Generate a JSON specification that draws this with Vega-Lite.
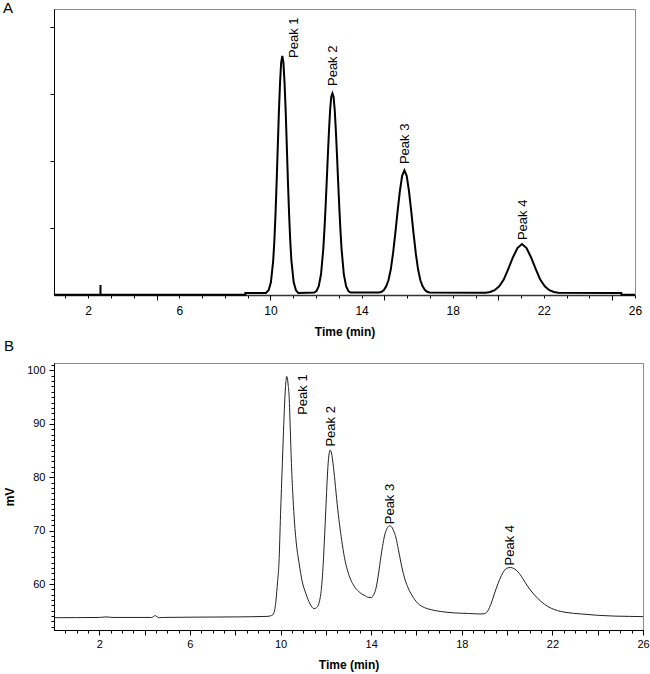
{
  "$schema": "https://vega.github.io/schema/vega-lite/v6.json",
  "padding": {"left": 2, "top": 0, "right": 2, "bottom": 2},
  "spacing": 68,
  "bounds": "flush",
  "config": {
    "font": "Liberation Sans",
    "view": {"stroke": "#8c8c8c", "strokeWidth": 1},
    "axis": {"domainColor": "#000", "tickColor": "#000", "labelColor": "#000", "titleColor": "#000", "grid": false, "labelFont": "Liberation Sans", "titleFont": "Liberation Sans", "titleFontWeight": "bold", "titleFontSize": 12, "labelFlush": false, "labelOverlap": false},
    "text": {"font": "Liberation Sans", "fontSize": 13, "color": "#000"},
    "title": {"font": "Liberation Sans", "fontSize": 15, "fontWeight": "normal", "color": "#000"}
  },
  "datasets": {
    "a": [
      {"t": 0.5, "v": 0.005}, {"t": 2.54, "v": 0.005}, {"t": 2.54, "v": 0.15}, {"t": 2.54, "v": 0.005},
      {"t": 8.9, "v": 0.005}, {"t": 8.9, "v": 0.03}, {"t": 9.8, "v": 0.03},
      {"t": 9.92, "v": 0.07}, {"t": 10.02, "v": 0.19}, {"t": 10.12, "v": 0.51}, {"t": 10.17, "v": 0.8}, {"t": 10.22, "v": 1.19}, {"t": 10.27, "v": 1.67}, {"t": 10.32, "v": 2.2}, {"t": 10.37, "v": 2.73}, {"t": 10.42, "v": 3.16}, {"t": 10.47, "v": 3.47}, {"t": 10.52, "v": 3.57}, {"t": 10.57, "v": 3.47}, {"t": 10.62, "v": 3.16}, {"t": 10.67, "v": 2.73}, {"t": 10.72, "v": 2.2}, {"t": 10.77, "v": 1.67}, {"t": 10.82, "v": 1.19}, {"t": 10.87, "v": 0.8}, {"t": 10.92, "v": 0.51}, {"t": 11.02, "v": 0.19}, {"t": 11.12, "v": 0.07}, {"t": 11.22, "v": 0.03},
      {"t": 11.92, "v": 0.037}, {"t": 12.02, "v": 0.06}, {"t": 12.12, "v": 0.13}, {"t": 12.22, "v": 0.31}, {"t": 12.32, "v": 0.69}, {"t": 12.37, "v": 0.98}, {"t": 12.42, "v": 1.32}, {"t": 12.47, "v": 1.7}, {"t": 12.52, "v": 2.09}, {"t": 12.57, "v": 2.46}, {"t": 12.62, "v": 2.77}, {"t": 12.67, "v": 2.96}, {"t": 12.72, "v": 3.01}, {"t": 12.77, "v": 2.96}, {"t": 12.82, "v": 2.77}, {"t": 12.87, "v": 2.46}, {"t": 12.92, "v": 2.09}, {"t": 12.97, "v": 1.7}, {"t": 13.02, "v": 1.32}, {"t": 13.07, "v": 0.98}, {"t": 13.12, "v": 0.69}, {"t": 13.22, "v": 0.31}, {"t": 13.32, "v": 0.13}, {"t": 13.42, "v": 0.06}, {"t": 13.52, "v": 0.037},
      {"t": 14.78, "v": 0.037}, {"t": 14.88, "v": 0.048}, {"t": 14.98, "v": 0.074}, {"t": 15.08, "v": 0.13}, {"t": 15.18, "v": 0.22}, {"t": 15.28, "v": 0.38}, {"t": 15.38, "v": 0.62}, {"t": 15.48, "v": 0.92}, {"t": 15.58, "v": 1.25}, {"t": 15.68, "v": 1.55}, {"t": 15.78, "v": 1.78}, {"t": 15.88, "v": 1.86}, {"t": 15.98, "v": 1.78}, {"t": 16.08, "v": 1.55}, {"t": 16.18, "v": 1.25}, {"t": 16.28, "v": 0.92}, {"t": 16.38, "v": 0.62}, {"t": 16.48, "v": 0.38}, {"t": 16.58, "v": 0.22}, {"t": 16.68, "v": 0.13}, {"t": 16.78, "v": 0.074}, {"t": 16.88, "v": 0.048}, {"t": 16.98, "v": 0.037},
      {"t": 19.44, "v": 0.034}, {"t": 19.64, "v": 0.044}, {"t": 19.84, "v": 0.071}, {"t": 20.04, "v": 0.13}, {"t": 20.24, "v": 0.23}, {"t": 20.44, "v": 0.39}, {"t": 20.64, "v": 0.56}, {"t": 20.84, "v": 0.7}, {"t": 21.04, "v": 0.76}, {"t": 21.24, "v": 0.7}, {"t": 21.44, "v": 0.56}, {"t": 21.64, "v": 0.39}, {"t": 21.84, "v": 0.23}, {"t": 22.04, "v": 0.13}, {"t": 22.24, "v": 0.071}, {"t": 22.44, "v": 0.044}, {"t": 22.64, "v": 0.034},
      {"t": 25.4, "v": 0.03}, {"t": 25.4, "v": 0.005}, {"t": 26, "v": 0.005}
    ],
    "al": [
      {"t": 11.05, "v": 3.54, "label": "Peak 1"},
      {"t": 12.75, "v": 3.12, "label": "Peak 2"},
      {"t": 15.9, "v": 1.955, "label": "Peak 3"},
      {"t": 21.08, "v": 0.82, "label": "Peak 4"}
    ],
    "b": [
      {"t": 0, "v": 53.7}, {"t": 1, "v": 53.72}, {"t": 2, "v": 53.75}, {"t": 2.3, "v": 53.85}, {"t": 2.6, "v": 53.75}, {"t": 4.3, "v": 53.75}, {"t": 4.4, "v": 53.95}, {"t": 4.47, "v": 54.1}, {"t": 4.55, "v": 53.85}, {"t": 4.65, "v": 53.7}, {"t": 4.8, "v": 53.75}, {"t": 6, "v": 53.8}, {"t": 8, "v": 53.85}, {"t": 9.4, "v": 53.95}, {"t": 9.6, "v": 54.1},
      {"t": 9.71, "v": 54.6}, {"t": 9.8, "v": 57.0}, {"t": 9.87, "v": 60.5}, {"t": 9.93, "v": 63.9}, {"t": 10.0, "v": 73.0}, {"t": 10.08, "v": 82.6}, {"t": 10.13, "v": 88.5}, {"t": 10.18, "v": 93.9}, {"t": 10.22, "v": 97.0}, {"t": 10.25, "v": 98.4}, {"t": 10.27, "v": 98.9}, {"t": 10.3, "v": 98.6}, {"t": 10.34, "v": 97.2}, {"t": 10.38, "v": 95.1}, {"t": 10.43, "v": 89.0}, {"t": 10.48, "v": 82.6}, {"t": 10.54, "v": 77.0}, {"t": 10.6, "v": 72.6}, {"t": 10.7, "v": 67.5}, {"t": 10.82, "v": 63.9}, {"t": 10.95, "v": 60.6}, {"t": 11.12, "v": 58.2}, {"t": 11.3, "v": 56.3}, {"t": 11.48, "v": 55.4}, {"t": 11.62, "v": 55.7},
      {"t": 11.72, "v": 56.8}, {"t": 11.8, "v": 59.0}, {"t": 11.88, "v": 63.5}, {"t": 11.95, "v": 69.5}, {"t": 12.02, "v": 76.0}, {"t": 12.08, "v": 81.2}, {"t": 12.13, "v": 84.0}, {"t": 12.19, "v": 85.1}, {"t": 12.25, "v": 84.5}, {"t": 12.32, "v": 82.5}, {"t": 12.4, "v": 79.3}, {"t": 12.5, "v": 75.0}, {"t": 12.6, "v": 71.3}, {"t": 12.7, "v": 68.2}, {"t": 12.82, "v": 65.0}, {"t": 12.96, "v": 62.5}, {"t": 13.1, "v": 60.8}, {"t": 13.25, "v": 59.6}, {"t": 13.45, "v": 58.6}, {"t": 13.69, "v": 57.9}, {"t": 13.9, "v": 57.5}, {"t": 14.0, "v": 57.5},
      {"t": 14.1, "v": 57.9}, {"t": 14.2, "v": 59.0}, {"t": 14.3, "v": 61.2}, {"t": 14.4, "v": 64.2}, {"t": 14.5, "v": 67.0}, {"t": 14.6, "v": 69.2}, {"t": 14.7, "v": 70.4}, {"t": 14.8, "v": 70.9}, {"t": 14.88, "v": 70.8}, {"t": 14.98, "v": 70.1}, {"t": 15.1, "v": 68.6}, {"t": 15.2, "v": 66.5}, {"t": 15.32, "v": 63.9}, {"t": 15.45, "v": 61.5}, {"t": 15.61, "v": 59.5}, {"t": 15.8, "v": 57.9}, {"t": 16.06, "v": 56.4}, {"t": 16.35, "v": 55.6}, {"t": 16.65, "v": 55.2}, {"t": 17.1, "v": 54.85}, {"t": 17.68, "v": 54.6}, {"t": 18.3, "v": 54.5}, {"t": 18.8, "v": 54.4}, {"t": 19.0, "v": 54.45},
      {"t": 19.15, "v": 55.0}, {"t": 19.3, "v": 56.4}, {"t": 19.45, "v": 58.3}, {"t": 19.6, "v": 60.1}, {"t": 19.75, "v": 61.6}, {"t": 19.89, "v": 62.6}, {"t": 20.0, "v": 63.0}, {"t": 20.15, "v": 63.1}, {"t": 20.3, "v": 62.9}, {"t": 20.48, "v": 62.3}, {"t": 20.7, "v": 61.0}, {"t": 20.92, "v": 59.5}, {"t": 21.2, "v": 58.0}, {"t": 21.51, "v": 56.7}, {"t": 21.8, "v": 55.8}, {"t": 22.1, "v": 55.2}, {"t": 22.6, "v": 54.7}, {"t": 23.28, "v": 54.4}, {"t": 24.0, "v": 54.15}, {"t": 24.76, "v": 54.0}, {"t": 25.4, "v": 53.95}, {"t": 26, "v": 53.9}
    ],
    "bl": [
      {"t": 10.97, "v": 91.7, "label": "Peak 1"},
      {"t": 12.22, "v": 85.75, "label": "Peak 2"},
      {"t": 14.85, "v": 71.2, "label": "Peak 3"},
      {"t": 20.11, "v": 63.5, "label": "Peak 4"}
    ]
  },
  "vconcat": [
    {
      "width": 581,
      "height": 286,
      "title": {"text": "A", "anchor": "start", "frame": "group", "orient": "top", "baseline": "alphabetic", "offset": 0, "dx": -51, "dy": 19},
      "resolve": {"axis": {"x": "independent", "y": "independent"}},
      "layer": [
        {
          "data": {"name": "a"},
          "mark": {"type": "line", "color": "#000", "strokeWidth": 2, "interpolate": "linear"},
          "encoding": {
            "x": {"field": "t", "type": "quantitative", "scale": {"domain": [0.5, 26], "nice": false, "zero": false},
              "axis": {"orient": "bottom", "values": [1,2,3,4,5,6,7,8,9,10,11,12,13,14,15,16,17,18,19,20,21,22,23,24,25,26], "tickSize": 3, "labelFontSize": 12, "labelPadding": 7, "labelExpr": "datum.value % 4 == 2 ? datum.label : ''", "title": "Time (min)", "titlePadding": 10, "domainColor": "#333", "domainWidth": 1.5}},
            "y": {"field": "v", "type": "quantitative", "scale": {"domain": [0, 4.27], "nice": false, "zero": false},
              "axis": {"orient": "left", "values": [1, 2, 3, 4], "labels": false, "tickSize": 4, "title": null}},
            "order": {"value": null}
          }
        },
        {
          "data": {"name": "al"},
          "mark": {"type": "text", "angle": 270, "align": "left", "baseline": "middle", "fontSize": 13},
          "encoding": {
            "x": {"field": "t", "type": "quantitative", "scale": {"domain": [0.5, 26], "nice": false, "zero": false},
              "axis": {"orient": "bottom", "values": [5, 10, 15, 20, 25], "tickSize": 5, "labels": false, "title": null, "domain": false}},
            "y": {"field": "v", "type": "quantitative", "scale": {"domain": [0, 4.27], "nice": false, "zero": false}, "axis": null},
            "text": {"field": "label"}
          }
        }
      ]
    },
    {
      "width": 589,
      "height": 267,
      "title": {"text": "B", "anchor": "start", "frame": "group", "orient": "top", "baseline": "alphabetic", "offset": 0, "dx": -50, "dy": 3},
      "resolve": {"axis": {"x": "independent", "y": "independent"}},
      "layer": [
        {
          "data": {"name": "b"},
          "mark": {"type": "line", "color": "#222", "strokeWidth": 1, "interpolate": "monotone"},
          "encoding": {
            "x": {"field": "t", "type": "quantitative", "scale": {"domain": [0, 26], "nice": false, "zero": false},
              "axis": {"orient": "bottom", "values": [0.5,1,1.5,2,2.5,3,3.5,4,4.5,5,5.5,6,6.5,7,7.5,8,8.5,9,9.5,10,10.5,11,11.5,12,12.5,13,13.5,14,14.5,15,15.5,16,16.5,17,17.5,18,18.5,19,19.5,20,20.5,21,21.5,22,22.5,23,23.5,24,24.5,25,25.5,26], "tickSize": 3, "labels": false, "title": null}},
            "y": {"field": "v", "type": "quantitative", "scale": {"domain": [51.4, 101.4], "nice": false, "zero": false},
              "axis": {"orient": "left", "values": [52,53,54,55,56,57,58,59,60,61,62,63,64,65,66,67,68,69,70,71,72,73,74,75,76,77,78,79,80,81,82,83,84,85,86,87,88,89,90,91,92,93,94,95,96,97,98,99,100,101], "tickSize": 3, "labels": false, "title": null}}
          }
        },
        {
          "data": {"name": "bl"},
          "mark": {"type": "text", "angle": 270, "align": "left", "baseline": "middle", "fontSize": 13},
          "encoding": {
            "x": {"field": "t", "type": "quantitative", "scale": {"domain": [0, 26], "nice": false, "zero": false},
              "axis": {"orient": "bottom", "values": [2,4,6,8,10,12,14,16,18,20,22,24,26], "tickSize": 5, "labelFontSize": 11, "labelPadding": 3, "labelExpr": "datum.value % 4 == 2 ? datum.label : ''", "title": "Time (min)", "titlePadding": 10}},
            "y": {"field": "v", "type": "quantitative", "scale": {"domain": [51.4, 101.4], "nice": false, "zero": false},
              "axis": {"orient": "left", "values": [60, 70, 80, 90, 100], "tickSize": 5, "labelFontSize": 11, "labelPadding": 4, "title": "mV", "titlePadding": 10}},
            "text": {"field": "label"}
          }
        }
      ]
    }
  ]
}
